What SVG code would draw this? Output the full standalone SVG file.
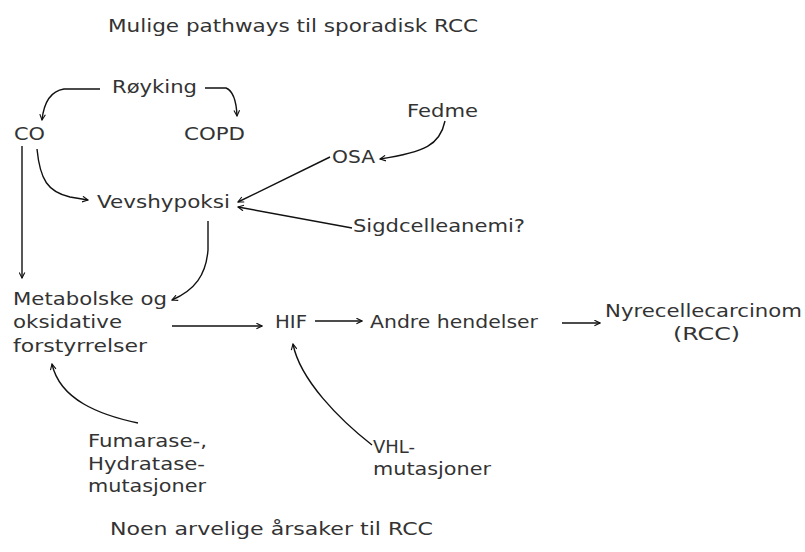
<svg xmlns="http://www.w3.org/2000/svg" width="805" height="552" viewBox="0 0 805 552">
<defs>
<style>
text{font-family:"DejaVu Sans","Verdana",sans-serif;font-size:18px;fill:#333}
.c path{fill:none;stroke:#111;stroke-width:1.4;marker-end:url(#ah)}
</style>
<marker id="ah" viewBox="0 0 10 10" refX="9" refY="5" markerWidth="7" markerHeight="7" markerUnits="userSpaceOnUse" orient="auto">
<path d="M1,1 L9,5 L1,9" fill="none" stroke="#111" stroke-width="1.6"/>
</marker>
</defs>
<rect width="805" height="552" fill="#fff"/>
<text x="108" y="32" textLength="370" lengthAdjust="spacingAndGlyphs">Mulige pathways til sporadisk RCC</text>
<text x="110" y="535" textLength="323" lengthAdjust="spacingAndGlyphs">Noen arvelige årsaker til RCC</text>
<g class="c">
<path d="M100,89 L64,89 Q45,92 42,120"/>
<path d="M205,88 L226,88 Q236,92 237,116"/>
<path d="M22,146 L22,278"/>
<path d="M37,149 C40,180 48,192 70,197 L88,200"/>
<path d="M208,221 L208,250 C206,275 195,290 172,300"/>
<path d="M330,157 L238,202"/>
<path d="M352,228 L238,207"/>
<path d="M445,121 C440,145 425,152 380,159"/>
<path d="M172,326 L262,326"/>
<path d="M315,321 L362,321"/>
<path d="M562,323 L600,323"/>
<path d="M138,423 C100,415 60,400 52,364"/>
<path d="M372,445 C340,420 300,380 293,344"/>
</g>
<g id="royking"><text x="112" y="93" textLength="85" lengthAdjust="spacingAndGlyphs">Røyking</text></g>
<g id="co"><text x="14" y="140" textLength="31" lengthAdjust="spacingAndGlyphs">CO</text></g>
<g id="copd"><text x="184" y="140" textLength="61" lengthAdjust="spacingAndGlyphs">COPD</text></g>
<g id="vevshypoksi"><text x="97" y="208" textLength="133" lengthAdjust="spacingAndGlyphs">Vevshypoksi</text></g>
<g id="fedme"><text x="407" y="117" textLength="71" lengthAdjust="spacingAndGlyphs">Fedme</text></g>
<g id="osa"><text x="332" y="163" textLength="43" lengthAdjust="spacingAndGlyphs">OSA</text></g>
<g id="sigd"><text x="353" y="232" textLength="172" lengthAdjust="spacingAndGlyphs">Sigdcelleanemi?</text></g>
<g id="metab"><text x="13" y="305" textLength="154" lengthAdjust="spacingAndGlyphs">Metabolske og</text><text x="13" y="328" textLength="109" lengthAdjust="spacingAndGlyphs">oksidative</text><text x="13" y="352" textLength="134" lengthAdjust="spacingAndGlyphs">forstyrrelser</text></g>
<g id="hif"><text x="275" y="328" textLength="32" lengthAdjust="spacingAndGlyphs">HIF</text></g>
<g id="andre"><text x="370" y="328" textLength="168" lengthAdjust="spacingAndGlyphs">Andre hendelser</text></g>
<g id="rcc"><text x="605" y="317" textLength="197" lengthAdjust="spacingAndGlyphs">Nyrecellecarcinom</text><text x="673" y="340" textLength="67" lengthAdjust="spacingAndGlyphs">(RCC)</text></g>
<g id="fumarase"><text x="88" y="447" textLength="119" lengthAdjust="spacingAndGlyphs">Fumarase-,</text><text x="88" y="470" textLength="117" lengthAdjust="spacingAndGlyphs">Hydratase-</text><text x="88" y="492" textLength="118" lengthAdjust="spacingAndGlyphs">mutasjoner</text></g>
<g id="vhl"><text x="373" y="453" textLength="42" lengthAdjust="spacingAndGlyphs">VHL-</text><text x="373" y="475" textLength="118" lengthAdjust="spacingAndGlyphs">mutasjoner</text></g>
</svg>
